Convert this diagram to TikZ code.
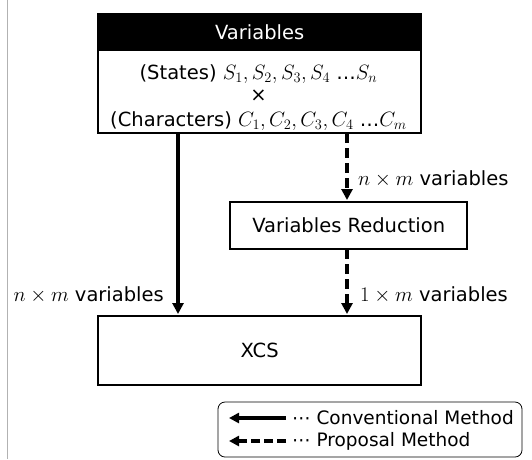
\documentclass[tikz,border=0pt]{standalone}
\usepackage{fontspec}
\setmainfont{DejaVu Sans}
\usetikzlibrary{arrows.meta}
\begin{document}
\begin{tikzpicture}[x=1pt,y=-1pt,
  box/.style={draw,line width=2.4pt,minimum height=#1,inner sep=0pt,anchor=north west},
  conn/.style={line width=3.4pt,-{Triangle[width=11pt,length=11pt]}},
  prop/.style={conn,dash pattern=on 10pt off 5pt},
  lbl/.style={font=\fontsize{19.5}{22}\selectfont,inner sep=0pt},
  leg/.style={font=\fontsize{18.5}{22}\selectfont,inner sep=0pt,anchor=west},
  txt/.style={font=\fontsize{19.5}{21.5}\selectfont},
  line/.style={font=\fontsize{19.5}{21.5}\selectfont,inner sep=0pt,anchor=base}]
\useasboundingbox (0,0) rectangle (532,459);
\draw[gray!60,line width=0.8pt] (7.5,0) -- (7.5,459);
% Variables box
\node[box=36pt,fill=black,minimum width=323pt,text=white,txt] (hdr) at (97,13) {Variables};
\node[box=83pt,minimum width=323pt] (body) at (97,49) {};
\node[line] (s) at (258.5,79) {(States) $S_1,S_2,S_3,S_4$ …$S_n$};
\node[line] (x) at (258.5,101) {×};
\node[line] (c) at (258.5,126) {(Characters) $C_1,C_2,C_3,C_4$ …$C_m$};
\node[box=47pt,minimum width=237pt,txt] (vr) at (229,201) {Variables Reduction};
\node[box=69pt,minimum width=323pt,txt] (xcs) at (97,315) {XCS};
% connectors
\coordinate (a1) at (178,133);
\coordinate (a2) at (178,314);
\draw[conn] (a1) -- (a2);
\coordinate (b1) at (347,133);
\coordinate (b2) at (347,200);
\draw[prop] (b1) -- (b2);
\coordinate (c1) at (347,249);
\coordinate (c2) at (347,314);
\draw[prop] (c1) -- (c2);
% labels
\node[lbl,anchor=west] (l1) at (358,179) {$n\times m$ variables};
\node[lbl,anchor=east] (l2) at (164,295) {$n\times m$ variables};
\node[lbl,anchor=west] (l3) at (360,295) {$1\times m$ variables};
% legend
\draw[line width=0.8pt,rounded corners=7pt] (218,402) rectangle (522,457);
\coordinate (e1) at (286,418); \coordinate (e2) at (229,418);
\draw[conn,-{Triangle[width=10pt,length=10pt]}] (e1) -- (e2);
\coordinate (f1) at (286,441); \coordinate (f2) at (229,441);
\draw[prop,-{Triangle[width=10pt,length=10pt]},dash pattern=on 9pt off 4pt] (f1) -- (f2);
\node[leg] (t1) at (292,418) {⋯ Conventional Method};
\node[leg] (t2) at (292,441) {⋯ Proposal Method};
\end{tikzpicture}
\end{document}
